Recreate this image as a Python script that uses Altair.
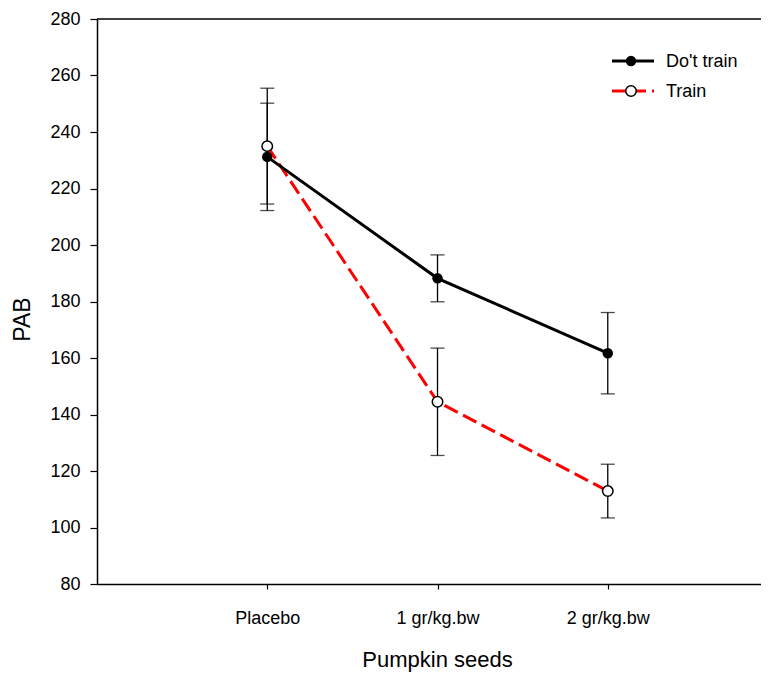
import altair as alt
import pandas as pd

categories = ["Placebo", "1 gr/kg.bw", "2 gr/kg.bw"]
dont_train_mean = [231.2, 188.2, 161.7]
dont_train_err = [19.0, 8.3, 14.4]
train_mean = [235.0, 144.5, 112.9]
train_err = [20.5, 19.0, 9.5]

rows = []
for i, c in enumerate(categories):
    rows.append({"pos": i + 1, "cat": c, "group": "Do't train",
                 "mean": dont_train_mean[i], "lo": dont_train_mean[i] - dont_train_err[i],
                 "hi": dont_train_mean[i] + dont_train_err[i]})
    rows.append({"pos": i + 1, "cat": c, "group": "Train",
                 "mean": train_mean[i], "lo": train_mean[i] - train_err[i],
                 "hi": train_mean[i] + train_err[i]})
df = pd.DataFrame(rows)

FONT = "Liberation Sans"
label_expr = ("datum.value == 1 ? 'Placebo' : datum.value == 2 ? '1 gr/kg.bw' : "
              "datum.value == 3 ? '2 gr/kg.bw' : ''")

xenc = alt.X("pos:Q", scale=alt.Scale(domain=[0, 3.9], nice=False, zero=False),
             axis=alt.Axis(values=[1, 2, 3], labelExpr=label_expr, title="Pumpkin seeds",
                           grid=False, tickSize=5, labelPadding=20,
                           titleX=340, titleY=82, titleBaseline="alphabetic", titleAlign="center",
                           labelFontSize=18, titleFontSize=22, titleFontWeight="normal",
                           labelFont=FONT, titleFont=FONT, labelColor="black", titleColor="black",
                           domainColor="black", tickColor="black", domainWidth=1.5, tickWidth=1.2))
yscale = alt.Scale(domain=[80, 280], nice=False, zero=False)
yaxis = alt.Axis(values=list(range(80, 281, 20)), title="PAB", grid=False, tickSize=7,
                 labelPadding=10, titleX=-75, titleY=300, titleBaseline="middle",
                 titleAlign="center", labelFontSize=18, titleFontSize=23,
                 titleFontWeight="normal", labelFont=FONT, titleFont=FONT,
                 labelColor="black", titleColor="black", domainColor="black",
                 tickColor="black", domainWidth=1.5, tickWidth=1.2)

base = alt.Chart(df)

dt = base.transform_filter(alt.datum.group == "Do't train")
tr = base.transform_filter(alt.datum.group == "Train")

err_rule = base.mark_rule(color="black", strokeWidth=1.3).encode(
    x=xenc, y=alt.Y("lo:Q", scale=yscale, axis=yaxis), y2="hi:Q")
cap_hi = base.mark_tick(color="black", size=14, thickness=1.3, orient="horizontal").encode(
    x="pos:Q", y="hi:Q")
cap_lo = base.mark_tick(color="black", size=14, thickness=1.3, orient="horizontal").encode(
    x="pos:Q", y="lo:Q")

line_dt = dt.mark_line(color="black", strokeWidth=3).encode(x="pos:Q", y="mean:Q")
line_tr = tr.mark_line(color="#ff0000", strokeWidth=3, strokeDash=[15, 6]).encode(
    x="pos:Q", y="mean:Q")
pt_dt = dt.mark_point(filled=True, color="black", size=110, opacity=1).encode(
    x="pos:Q", y="mean:Q")
pt_tr = tr.mark_point(filled=True, fill="white", stroke="black", strokeWidth=1.5,
                      size=110, opacity=1).encode(x="pos:Q", y="mean:Q")

top_line = alt.Chart(alt.Data(values=[{}])).mark_rule(color="black", strokeWidth=1.5).encode(
    y=alt.datum(280))

one = alt.Data(values=[{}])
leg_line1 = alt.Chart(one).mark_rule(color="black", strokeWidth=3).encode(
    x=alt.value(515), x2=alt.value(557), y=alt.value(42))
leg_pt1 = alt.Chart(one).mark_point(filled=True, color="black", size=110, opacity=1).encode(
    x=alt.value(534), y=alt.value(42))
leg_txt1 = alt.Chart(one).mark_text(align="left", baseline="middle", font=FONT,
                                    fontSize=18, color="black").encode(
    x=alt.value(569), y=alt.value(43), text=alt.value("Do't train"))
leg_line2 = alt.Chart(one).mark_rule(color="#ff0000", strokeWidth=3, strokeDash=[14, 6]).encode(
    x=alt.value(515), x2=alt.value(557), y=alt.value(72))
leg_pt2 = alt.Chart(one).mark_point(filled=True, fill="white", stroke="black", strokeWidth=1.5,
                                    size=110, opacity=1).encode(
    x=alt.value(534), y=alt.value(72))
leg_txt2 = alt.Chart(one).mark_text(align="left", baseline="middle", font=FONT,
                                    fontSize=18, color="black").encode(
    x=alt.value(569), y=alt.value(73), text=alt.value("Train"))

chart = alt.layer(
    err_rule, cap_hi, cap_lo, line_tr, line_dt, pt_dt, pt_tr, top_line,
    leg_line1, leg_pt1, leg_txt1, leg_line2, leg_pt2, leg_txt2
).properties(
    width=664, height=565,
    autosize=alt.AutoSizeParams(type="none"),
    padding={"left": 89, "top": 11, "right": 0, "bottom": 88},
    background="white",
).configure_view(stroke=None)

chart.save("out.html", embed_options={"renderer": "svg", "actions": False})
